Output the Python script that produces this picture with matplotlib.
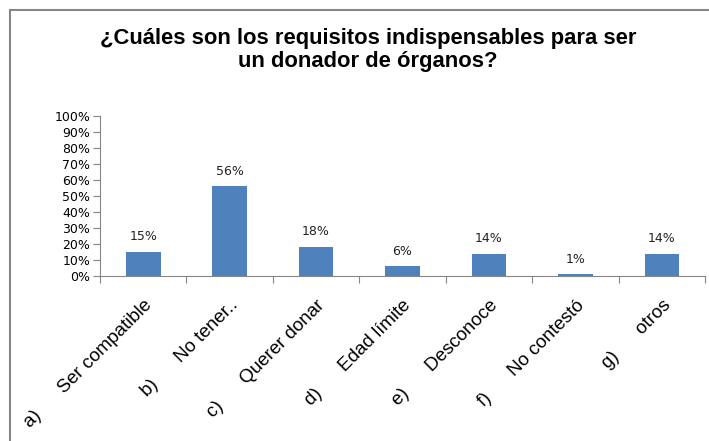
import matplotlib.pyplot as plt
from matplotlib.patches import Rectangle
from matplotlib.ticker import PercentFormatter

# datos de la encuesta
letras = ['a)', 'b)', 'c)', 'd)', 'e)', 'f)', 'g)']
respuestas = ['Ser compatible', 'No tener..', 'Querer donar', 'Edad límite',
              'Desconoce', 'No contestó', 'otros']
porcentajes = [15, 56, 18, 6, 14, 1, 14]
titulo = '¿Cuáles son los requisitos indispensables para ser\nun donador de órganos?'

azul = '#4f81bd'
gris = '#868686'

fig = plt.figure(figsize=(7.09, 4.41), dpi=100)
ax = fig.add_axes([100/709, 1 - 276/441, 605/709, 160/441])

x = list(range(len(porcentajes)))
bars = ax.bar(x, porcentajes, width=0.4, color=azul)
for xi, v in zip(x, porcentajes):
    ax.text(xi, v + 5.5, '%d%%' % v, ha='center', va='bottom',
            fontsize=9, family='DejaVu Sans', color='#222222')

ax.set_xlim(-0.5, len(porcentajes) - 0.5)
ax.set_ylim(0, 100)
ax.set_yticks(range(0, 101, 10))
ax.yaxis.set_major_formatter(PercentFormatter(decimals=0))

ax.set_xticks([i - 0.5 for i in range(len(porcentajes) + 1)])
ax.set_xticklabels([])
ax.set_xticks(x, minor=True)
etiquetas = [l + '      ' + r for l, r in zip(letras, respuestas)]
ax.set_xticklabels(etiquetas, minor=True, rotation=45, ha='right',
                   rotation_mode='anchor', fontsize=13.5, family='Liberation Sans')
ax.tick_params(axis='x', which='minor', length=0, pad=15)
ax.tick_params(axis='x', which='major', length=5, color=gris, direction='out')
ax.tick_params(axis='y', length=5, color=gris, labelsize=9, pad=2)
for t in ax.get_yticklabels():
    t.set_family('DejaVu Sans')

for s in ['top', 'right']:
    ax.spines[s].set_visible(False)
ax.spines['left'].set_color(gris)
ax.spines['bottom'].set_color(gris)

fig.text(368/709, 1 - 50/441, titulo, ha='center', va='center',
         fontsize=15.8, fontweight='bold', family='Liberation Sans',
         linespacing=1.1)

# marco del area del grafico
fig.patches.append(Rectangle((10/709, -0.1), 1.2, 1 - 10/441 + 0.1,
                             transform=fig.transFigure, fill=False,
                             edgecolor=gris, linewidth=1.5))

fig.savefig('out.png', dpi=100)
